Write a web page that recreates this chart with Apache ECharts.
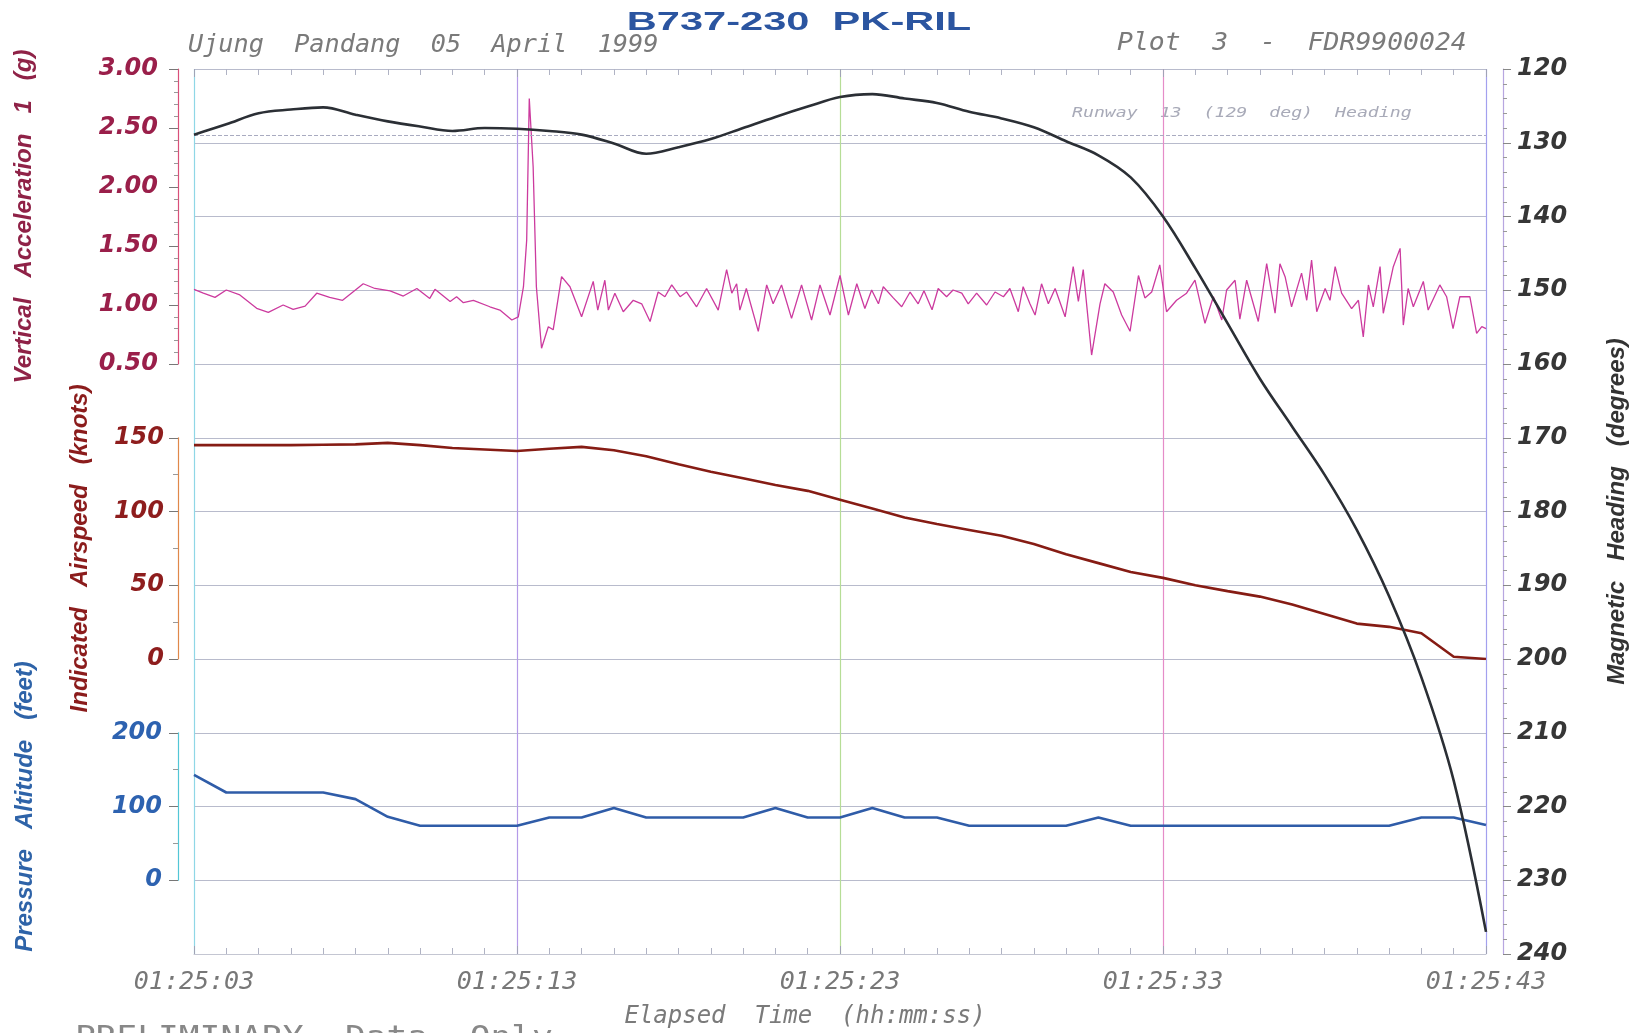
<!DOCTYPE html>
<html>
<head>
<meta charset="utf-8">
<title>B737-230 PK-RIL</title>
<script src="https://cdn.jsdelivr.net/npm/echarts/dist/echarts.min.js"></script>
<style>
	html, body { margin: 0; padding: 0; background: #fff; }
	#chart { width: 1640px; height: 1033px; }
</style>
</head>
<body>
<div id="chart"></div>
<script>
// time axis: seconds after 01:25:03
const timeLabels = ["01:25:03", "01:25:13", "01:25:23", "01:25:33", "01:25:43"];
const seconds = [0, 1, 2, 3, 4, 5, 6, 7, 8, 9, 10, 11, 12, 13, 14, 15, 16, 17, 18, 19, 20,
	21, 22, 23, 24, 25, 26, 27, 28, 29, 30, 31, 32, 33, 34, 35, 36, 37, 38, 39, 40];

// magnetic heading (degrees), 1 per second
const magHeading = [128.9, 127.5, 126.0, 125.5, 125.2, 126.2, 127.1, 127.8, 128.4, 128.0,
	128.1, 128.4, 128.9, 130.1, 131.5, 130.6, 129.5, 128.0, 126.5, 125.1,
	123.8, 123.4, 124.0, 124.6, 125.8, 126.7, 127.9, 129.8, 131.7, 134.7,
	140.0, 147.0, 154.5, 162.0, 168.5, 175.0, 182.5, 191.5, 202.5, 216.5, 237.0];

// indicated airspeed (knots)
const airspeed = [145, 145, 145, 145, 145.3, 145.5, 146.5, 145, 143, 142,
	141, 142.5, 143.8, 141.5, 137.5, 132, 127, 122.5, 118, 114,
	108, 102, 96, 91.5, 87.5, 83.5, 78, 71, 65, 59,
	55, 50, 46, 42.3, 37, 30.5, 24, 21.8, 17.5, 1.5, 0];

// pressure altitude (feet)
const altitude = [143, 119, 119, 119, 119, 110, 86, 74, 74, 74,
	74, 85, 85, 98, 85, 85, 85, 85, 98, 85,
	85, 98, 85, 85, 74, 74, 74, 74, 85, 74,
	74, 74, 74, 74, 74, 74, 74, 74, 85, 85, 75];

// vertical acceleration (g)
const accelTime = [0, 0.29, 0.65, 1.0, 1.42, 1.94, 2.3, 2.76, 3.07, 3.44,
	3.8, 4.2, 4.6, 5.24, 5.6, 6.07, 6.48, 6.9, 7.3, 7.46,
	7.93, 8.13, 8.34, 8.65, 9.16, 9.47, 9.84, 10.04, 10.2, 10.3,
	10.38, 10.5, 10.6, 10.76, 10.97, 11.12, 11.38, 11.64, 12.0, 12.36,
	12.5, 12.72, 12.83, 13.03, 13.29, 13.6, 13.86, 14.12, 14.37, 14.58,
	14.79, 15.05, 15.25, 15.56, 15.87, 16.23, 16.49, 16.65, 16.8, 16.9,
	17.1, 17.47, 17.73, 17.93, 18.19, 18.5, 18.81, 19.12, 19.38, 19.69,
	20.0, 20.26, 20.52, 20.77, 20.98, 21.19, 21.34, 21.65, 21.91, 22.17,
	22.42, 22.6, 22.85, 23.04, 23.3, 23.5, 23.77, 23.97, 24.23, 24.54,
	24.8, 25.06, 25.26, 25.52, 25.67, 25.88, 26.04, 26.24, 26.45, 26.66,
	26.97, 27.22, 27.38, 27.53, 27.79, 28.05, 28.2, 28.46, 28.72, 28.98,
	29.24, 29.44, 29.65, 29.9, 30.11, 30.42, 30.73, 30.99, 31.3, 31.56,
	31.82, 31.97, 32.23, 32.38, 32.59, 32.95, 33.21, 33.47, 33.62, 33.78,
	33.98, 34.29, 34.45, 34.6, 34.76, 35.02, 35.17, 35.33, 35.53, 35.84,
	36.05, 36.2, 36.36, 36.51, 36.72, 36.82, 37.13, 37.34, 37.44, 37.59,
	37.75, 38.06, 38.21, 38.57, 38.78, 38.98, 39.19, 39.5, 39.71, 39.87, 40.0];
const accelG = [1.133, 1.10, 1.065, 1.127, 1.085, 0.972, 0.938, 1.0, 0.963, 0.99,
	1.10, 1.065, 1.04, 1.18, 1.14, 1.12, 1.076, 1.14, 1.056, 1.133,
	1.03, 1.07, 1.02, 1.04, 0.985, 0.957, 0.873, 0.90, 1.155, 1.55,
	2.75, 2.17, 1.155, 0.633, 0.816, 0.79, 1.24, 1.155, 0.90, 1.20,
	0.957, 1.21, 0.957, 1.10, 0.943, 1.04, 1.01, 0.86, 1.11, 1.07,
	1.17, 1.07, 1.11, 0.985, 1.14, 0.957, 1.30, 1.10, 1.18, 0.957,
	1.14, 0.777, 1.17, 1.01, 1.17, 0.887, 1.17, 0.873, 1.17, 0.915,
	1.25, 0.915, 1.18, 0.97, 1.127, 1.01, 1.155, 1.06, 0.985, 1.11,
	1.01, 1.12, 0.96, 1.14, 1.07, 1.127, 1.10, 1.01, 1.10, 1.0,
	1.11, 1.07, 1.14, 0.943, 1.155, 1.01, 0.915, 1.18, 1.01, 1.14,
	0.90, 1.325, 1.03, 1.30, 0.576, 1.01, 1.18, 1.11, 0.915, 0.777,
	1.25, 1.06, 1.11, 1.34, 0.943, 1.04, 1.10, 1.21, 0.845, 1.07,
	0.873, 1.127, 1.21, 0.88, 1.21, 0.86, 1.35, 0.93, 1.35, 1.24,
	0.985, 1.27, 1.04, 1.38, 0.943, 1.14, 1.04, 1.325, 1.10, 0.97,
	1.04, 0.73, 1.17, 0.985, 1.325, 0.93, 1.325, 1.48, 0.83, 1.14,
	0.985, 1.20, 0.957, 1.17, 1.07, 0.80, 1.07, 1.07, 0.76, 0.816, 0.80];

const runwayHeading = 129;

function pairs(xs, ys) {
	return xs.map(function (x, i) { return [x, ys[i]]; });
}

let myChart = echarts.init(document.getElementById("chart"));

// shared styles
const labelFont = { fontFamily: "DejaVu Sans", fontWeight: "bold", fontStyle: "italic", fontSize: 24 };
const nameFont = { fontFamily: "Liberation Sans", fontWeight: "bold", fontStyle: "italic", fontSize: 24 };
const gridLine = { color: "#b8bbcc", width: 1 };
const plotLeft = 194, plotRight = 154;

function hiddenX(idx) {
	return { gridIndex: idx, type: "value", min: 0, max: 40, show: false };
}

let option = {
	backgroundColor: "#fff",
	animation: false,
	grid: [
		{ left: plotLeft, right: plotRight, top: 69, bottom: 79, outerBoundsMode: "none" },
		{ left: plotLeft, right: plotRight, top: 69, height: 295, outerBoundsMode: "none" },
		{ left: plotLeft, right: plotRight, top: 437.75, height: 221.25, outerBoundsMode: "none" },
		{ left: plotLeft, right: plotRight, top: 732.75, height: 147.5, outerBoundsMode: "none" },
	],
	xAxis: [
		{
			gridIndex: 0,
			type: "value",
			min: 0,
			max: 40,
			interval: 10,
			position: "bottom",
			axisLine: { show: true, onZero: false, lineStyle: { color: "#c4c6d2" } },
			axisTick: { show: true, inside: true, length: 8, lineStyle: { color: "#a0a3b5" } },
			minorTick: { show: true, splitNumber: 10, length: 6, lineStyle: { color: "#b0b3c4" } },
			axisLabel: {
				margin: 16,
				color: "#777",
				fontFamily: "DejaVu Sans Mono",
				fontStyle: "italic",
				fontSize: 25,
				formatter: function (v) { return timeLabels[v / 10]; },
			},
			splitLine: {
				show: true,
				lineStyle: { color: ["#8fd7e6", "#b49ae8", "#b6dd96", "#e58cc8", "#a3a0ee"], width: 1.2 },
			},
		},
		{
			gridIndex: 0,
			type: "value",
			min: 0,
			max: 40,
			interval: 10,
			position: "top",
			axisLine: { show: false, onZero: false },
			axisTick: { show: true, inside: true, length: 8, lineStyle: { color: "#a0a3b5" } },
			minorTick: { show: true, splitNumber: 10, length: 6, lineStyle: { color: "#b0b3c4" } },
			axisLabel: { show: false },
			splitLine: { show: false },
		},
		hiddenX(1),
		hiddenX(2),
		hiddenX(3),
	],
	yAxis: [
		{
			// magnetic heading, right side
			gridIndex: 0,
			type: "value",
			position: "right",
			offset: 17,
			inverse: true,
			min: 120,
			max: 240,
			interval: 10,
			name: "Magnetic   Heading   (degrees)",
			nameLocation: "middle",
			nameGap: 102,
			nameTextStyle: Object.assign({ color: "#333" }, nameFont),
			axisLine: { show: true, onZero: false, lineStyle: { color: "#b7a6e0", width: 1.2 } },
			axisTick: { show: true, length: 8, lineStyle: { color: "#888" } },
			minorTick: { show: true, splitNumber: 5, length: 4, lineStyle: { color: "#999" } },
			axisLabel: Object.assign({ margin: 14, color: "#363636" }, labelFont),
			splitLine: { show: true, lineStyle: gridLine },
		},
		{
			// vertical acceleration
			gridIndex: 1,
			type: "value",
			position: "left",
			offset: 16,
			min: 0.5,
			max: 3,
			interval: 0.5,
			name: "Vertical   Acceleration   1   (g)",
			nameLocation: "middle",
			nameGap: 142,
			nameTextStyle: Object.assign({ color: "#8f2247" }, nameFont),
			axisLine: { show: true, onZero: false, lineStyle: { color: "#d9507a", width: 1.2 } },
			axisTick: { show: true, length: 9, lineStyle: { color: "#777" } },
			minorTick: { show: true, splitNumber: 5, length: 4, lineStyle: { color: "#999" } },
			axisLabel: Object.assign({ margin: 20, color: "#9a1f4a", formatter: function (v) { return v.toFixed(2); } }, labelFont),
			splitLine: { show: false },
		},
		{
			// indicated airspeed
			gridIndex: 2,
			type: "value",
			position: "left",
			offset: 16,
			min: 0,
			max: 150,
			interval: 50,
			name: "Indicated   Airspeed   (knots)",
			nameLocation: "middle",
			nameGap: 86,
			nameTextStyle: Object.assign({ color: "#8b1c1c" }, nameFont),
			axisLine: { show: true, onZero: false, lineStyle: { color: "#e0884a", width: 1.2 } },
			axisTick: { show: true, length: 9, lineStyle: { color: "#777" } },
			minorTick: { show: true, splitNumber: 2, length: 5, lineStyle: { color: "#999" } },
			axisLabel: Object.assign({ margin: 14, color: "#8e1d1d" }, labelFont),
			splitLine: { show: false },
		},
		{
			// pressure altitude
			gridIndex: 3,
			type: "value",
			position: "left",
			offset: 16,
			min: 0,
			max: 200,
			interval: 100,
			name: "Pressure   Altitude   (feet)",
			nameLocation: "middle",
			nameGap: 141,
			nameTextStyle: Object.assign({ color: "#2e63a8" }, nameFont),
			axisLine: { show: true, onZero: false, lineStyle: { color: "#52c6d6", width: 1.2 } },
			axisTick: { show: true, length: 9, lineStyle: { color: "#777" } },
			minorTick: { show: true, splitNumber: 2, length: 5, lineStyle: { color: "#999" } },
			axisLabel: Object.assign({ margin: 16, color: "#2d62b0" }, labelFont),
			splitLine: { show: false },
		},
	],
	series: [
		{
			name: "Magnetic Heading",
			type: "line",
			xAxisIndex: 0,
			yAxisIndex: 0,
			data: pairs(seconds, magHeading),
			smooth: 0.35,
			showSymbol: false,
			lineStyle: { color: "#2b2f35", width: 2.6 },
			z: 5,
			markLine: {
				silent: true,
				symbol: "none",
				label: { show: false },
				lineStyle: { color: "#a9abc0", type: "dashed", width: 1 },
				data: [{ yAxis: runwayHeading }],
			},
		},
		{
			name: "Vertical Acceleration",
			type: "line",
			xAxisIndex: 2,
			yAxisIndex: 1,
			data: pairs(accelTime, accelG),
			showSymbol: false,
			lineStyle: { color: "#cc3a9e", width: 1.3 },
			z: 4,
		},
		{
			name: "Indicated Airspeed",
			type: "line",
			xAxisIndex: 3,
			yAxisIndex: 2,
			data: pairs(seconds, airspeed),
			showSymbol: false,
			lineStyle: { color: "#861c14", width: 2.6 },
			z: 4,
		},
		{
			name: "Pressure Altitude",
			type: "line",
			xAxisIndex: 4,
			yAxisIndex: 3,
			data: pairs(seconds, altitude),
			showSymbol: false,
			lineStyle: { color: "#2f5ca8", width: 2.6 },
			z: 4,
		},
	],
	graphic: [
		{
			type: "text",
			x: 799,
			y: 23,
			scaleX: 1.6,
			style: { text: "B737-230  PK-RIL", font: 'bold 26px "Liberation Sans"', fill: "#2b55a0", textAlign: "center", textVerticalAlign: "middle" },
		},
		{
			type: "text",
			x: 188,
			y: 46,
			scaleX: 1.05,
			style: { text: "Ujung  Pandang  05  April  1999", font: 'italic 24px "DejaVu Sans Mono"', fill: "#7a7a7a", textAlign: "left", textVerticalAlign: "middle" },
		},
		{
			type: "text",
			x: 1117,
			y: 44,
			scaleX: 1.1,
			style: { text: "Plot  3  -  FDR9900024", font: 'italic 24px "DejaVu Sans Mono"', fill: "#7a7a7a", textAlign: "left", textVerticalAlign: "middle" },
		},
		{
			type: "text",
			x: 1072,
			y: 113,
			scaleX: 1.3,
			style: { text: "Runway  13  (129  deg)  Heading", font: 'italic 14px "DejaVu Sans Mono"', fill: "#a8aab8", textAlign: "left", textVerticalAlign: "middle" },
		},
		{
			type: "text",
			x: 805,
			y: 1017,
			style: { text: "Elapsed  Time  (hh:mm:ss)", font: 'italic 24px "DejaVu Sans Mono"', fill: "#7a7a7a", textAlign: "center", textVerticalAlign: "middle" },
		},
		{
			type: "text",
			x: 75,
			y: 1024,
			scaleX: 1.15,
			style: { text: "PRELIMINARY  Data  Only", font: '30px "DejaVu Sans Mono"', fill: "#888", textAlign: "left", textVerticalAlign: "top" },
		},
	],
};

myChart.setOption(option);
window.addEventListener("resize", function () {
	myChart.resize();
});
</script>
</body>
</html>
